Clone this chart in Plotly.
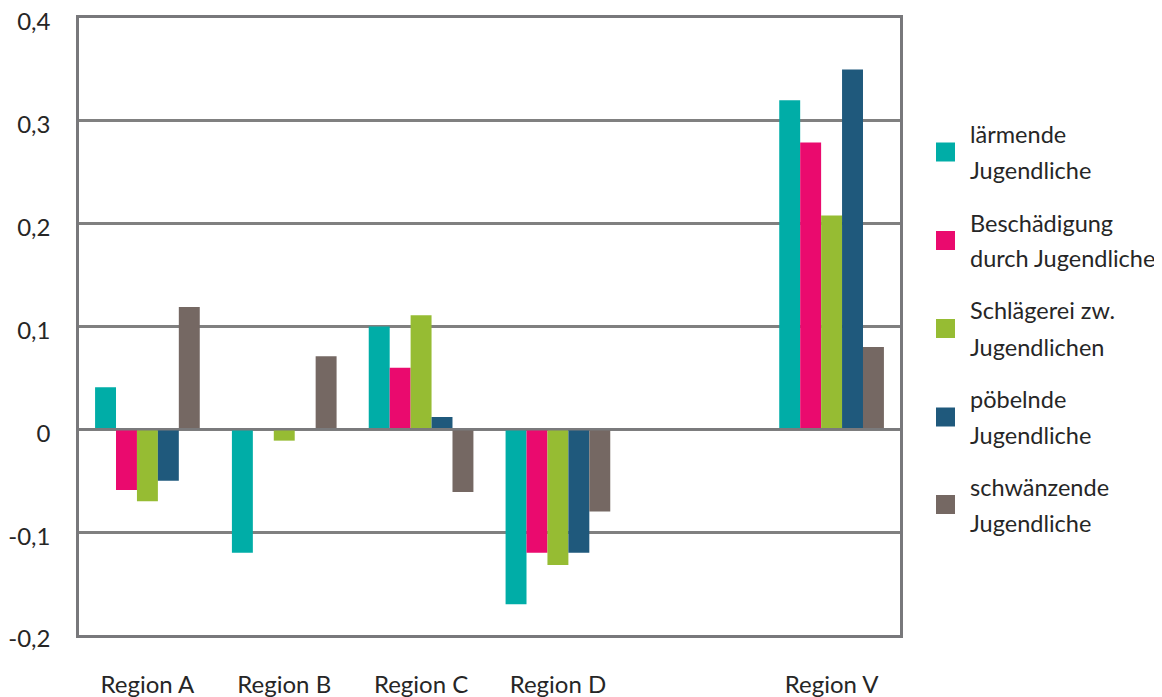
import plotly.graph_objects as go

categories = ["Region A", "Region B", "Region C", "Region D", " ", "Region V"]

series_names = [
    "lärmende<br>Jugendliche",
    "Beschädigung<br>durch Jugendliche",
    "Schlägerei zw.<br>Jugendlichen",
    "pöbelnde<br>Jugendliche",
    "schwänzende<br>Jugendliche",
]

laermende = [0.041, -0.12, 0.10, -0.17, None, 0.32]
beschaedigung = [-0.059, 0, 0.06, -0.12, None, 0.279]
schlaegerei = [-0.07, -0.011, 0.111, -0.132, None, 0.208]
poebelnde = [-0.05, 0, 0.012, -0.12, None, 0.35]
schwaenzende = [0.119, 0.071, -0.061, -0.08, None, 0.08]

series_values = [laermende, beschaedigung, schlaegerei, poebelnde, schwaenzende]
colors = ["#00ADA7", "#EA0A6E", "#96BC33", "#1F597C", "#756863"]

y_tickvals = [-0.2, -0.1, 0, 0.1, 0.2, 0.3, 0.4]
y_ticktext = ["-0,2", "-0,1", "0", "0,1", "0,2", "0,3", "0,4"]

FONT = "Lato"
FS = 24
FS_LEG = 23.5
TXT = "#262626"
OFF = 8  # page body margin offset
W, H = 1162 - OFF, 697 - OFF
# plot area in screen pixels: left 79, right 900, top 18, bottom 635
L, T = 79 - OFF, 18 - OFF
R = W - (900 - OFF)
B = H - (635 - OFF)
PW, PH = W - L - R, H - T - B


def px_x(px):  # screen px -> paper
    return (px - OFF - L) / PW


def px_y(py):
    return 1 - (py - OFF - T) / PH


fig = go.Figure()
for name, vals, col in zip(series_names, series_values, colors):
    fig.add_trace(go.Bar(x=categories, y=vals, name=name, marker_color=col,
                         marker_line_width=0, showlegend=False))

# zero line on top of bars
fig.add_shape(type="line", xref="paper", yref="y", x0=0, x1=1, y0=0, y1=0,
              line=dict(color="#7a7a7c", width=2.5), layer="above")

# custom legend (two lines per entry with wide line spacing)
legend_centers = [152, 240.5, 328.5, 417, 504.5]
for name, col, cy in zip(series_names, colors, legend_centers):
    fig.add_shape(type="rect", xref="paper", yref="paper",
                  x0=px_x(936), x1=px_x(955), y0=px_y(cy + 9.5), y1=px_y(cy - 9.5),
                  fillcolor=col, line_width=0)
    line1, line2 = name.split("<br>")
    for txt, off in ((line1, -18), (line2, 18)):
        fig.add_annotation(text=txt, xref="paper", yref="paper", x=px_x(968),
                           y=px_y(cy + off), xanchor="left", yanchor="middle",
                           showarrow=False, font=dict(family=FONT, size=FS_LEG, color=TXT))

fig.update_layout(
    width=W, height=H,
    margin=dict(l=L, r=R, t=T, b=B, autoexpand=False),
    paper_bgcolor="white", plot_bgcolor="white",
    barmode="group", bargap=0.235, bargroupgap=0,
    font=dict(family=FONT, size=FS, color=TXT),
    showlegend=False,
)
fig.update_xaxes(
    type="category", showgrid=False, showline=True, mirror=True, automargin=False,
    linecolor="#78787b", linewidth=2.5, ticks="", ticklabelstandoff=26,
    ticklabeloverflow="allow",
    tickfont=dict(family=FONT, size=FS, color=TXT),
)
fig.update_yaxes(
    range=[-0.2, 0.4], tickvals=y_tickvals, ticktext=y_ticktext, automargin=False,
    showgrid=True, gridcolor="#808080", gridwidth=2.5,
    zeroline=False, showline=True, mirror=True,
    linecolor="#78787b", linewidth=2.5, ticks="", ticklabelstandoff=21,
    ticklabelshift=4, ticklabeloverflow="allow",
    tickfont=dict(family=FONT, size=FS, color=TXT),
)

fig.write_html("out.html")
